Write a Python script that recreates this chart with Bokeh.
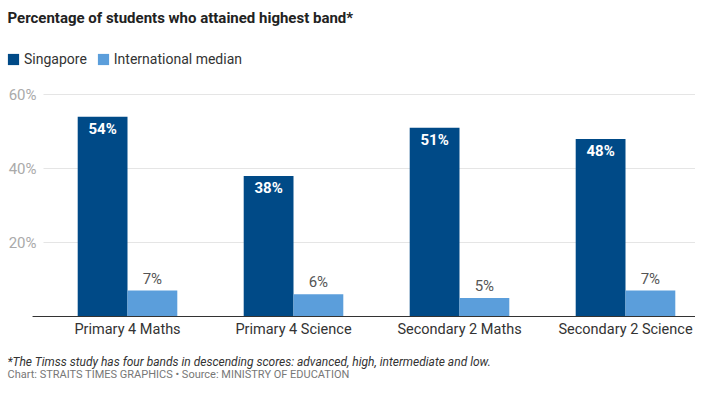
from bokeh.plotting import figure
from bokeh.models import ColumnDataSource, Label, Legend, LegendItem, Range1d
from bokeh.transform import dodge
from bokeh.core.properties import value
from bokeh.embed import file_html
from bokeh.resources import INLINE

categories = ["Primary 4 Maths", "Primary 4 Science", "Secondary 2 Maths", "Secondary 2 Science"]
singapore = [54, 38, 51, 48]
intl_median = [7, 6, 5, 7]
y_ticks = [20, 40, 60]
y_tick_labels = ["20%", "40%", "60%"]

title_text = "Percentage of students who attained highest band*"
note_text = "*The Timss study has four bands in descending scores: advanced, high, intermediate and low."
source_text = "Chart: STRAITS TIMES GRAPHICS \u2022 Source: MINISTRY OF EDUCATION"

SG_COLOR = "#004a87"
INT_COLOR = "#5b9edb"
FONT = "Roboto"

W, H = 695, 382
PX_PER_CAT = 166.0
PX_PER_UNIT = 3.7
CAT0_PX = 127.0
BASE_PX = H - 316.0  # baseline distance from bottom

idx = list(range(len(categories)))
src = ColumnDataSource(dict(
    x=idx,
    cat=categories,
    sg=singapore,
    intl=intl_median,
    sg_lbl=[f"{v}%" for v in singapore],
    intl_lbl=[f"{v}%" for v in intl_median],
))
tick_src = ColumnDataSource(dict(y=y_ticks, lbl=y_tick_labels))

x_start = -CAT0_PX / PX_PER_CAT
x_end = (W - CAT0_PX) / PX_PER_CAT
y_start = -BASE_PX / PX_PER_UNIT
y_end = (H - BASE_PX) / PX_PER_UNIT

p = figure(width=W, height=H, output_backend="svg", toolbar_location=None,
           x_range=Range1d(x_start, x_end), y_range=Range1d(y_start, y_end),
           min_border=0, x_axis_type=None, y_axis_type=None)
p.outline_line_color = None
p.grid.visible = False
p.background_fill_color = "white"
p.border_fill_color = "white"

GRID_X0 = -0.506
BASE_X0 = -0.572

# gridlines
p.segment(x0=GRID_X0, x1=x_end + 1, y0="y", y1="y", source=tick_src,
          line_color="#e5e5e5", line_width=1)
# y tick labels
p.text(x=GRID_X0, y="y", text="lbl", source=tick_src, x_offset=-7,
       text_color="#aaaaaa", text_font=value(FONT), text_font_size="15px",
       text_align="right", text_baseline="middle")

# bars
r_sg = p.vbar(x=dodge("x", -0.15), top="sg", width=0.3, source=src,
              color=SG_COLOR, line_color=None)
r_int = p.vbar(x=dodge("x", 0.15), top="intl", width=0.3, source=src,
               color=INT_COLOR, line_color=None)

# baseline
p.segment(x0=[BASE_X0], x1=[x_end + 1], y0=[0], y1=[0], line_color="#333333", line_width=1)

# value labels
p.text(x=dodge("x", -0.15), y="sg", text="sg_lbl", source=src,
       text_color="white", text_font=value(FONT), text_font_size="15px",
       text_font_style="bold",
       text_align="center", text_baseline="top", y_offset=3)
p.text(x=dodge("x", 0.15), y="intl", text="intl_lbl", source=src,
       text_color="#555555", text_font=value(FONT), text_font_size="15px",
       text_align="center", text_baseline="bottom", y_offset=-3)

# category labels
p.text(x="x", y=0, text="cat", source=src, y_offset=4,
       text_color="#333333", text_font=value(FONT), text_font_size="14.5px",
       text_align="center", text_baseline="top")

# title
p.add_layout(Label(x=7, y=H - 17, x_units="screen", y_units="screen", text=title_text,
                   text_font=FONT, text_font_size="15px", text_font_style="bold",
                   text_color="#222222", text_baseline="middle"))

# legend
legend = Legend(items=[LegendItem(label="Singapore", renderers=[r_sg]),
                       LegendItem(label="International median", renderers=[r_int])],
                location=(6, H - 67), orientation="horizontal",
                glyph_width=14, glyph_height=14, label_standoff=4, spacing=9,
                padding=0, margin=0, border_line_alpha=0, background_fill_alpha=0,
                label_text_font=FONT, label_text_font_size="14px", label_text_color="#333333")
p.add_layout(legend, "center")

# footer
p.add_layout(Label(x=7, y=21, x_units="screen", y_units="screen", text=note_text,
                   text_font=FONT, text_font_size="12px", text_font_style="italic",
                   text_color="#333333", text_baseline="middle"))
p.add_layout(Label(x=7, y=8, x_units="screen", y_units="screen", text=source_text,
                   text_font=FONT, text_font_size="11px",
                   text_color="#777777", text_baseline="middle"))

open("out.html", "w").write(file_html(p, INLINE))
